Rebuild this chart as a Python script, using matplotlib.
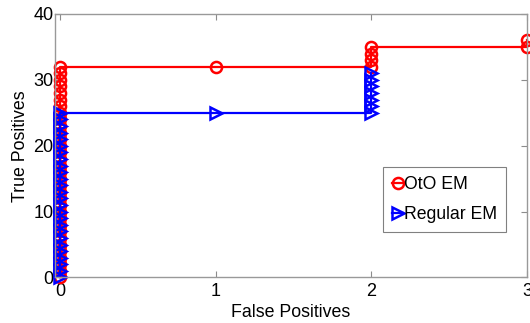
import matplotlib
matplotlib.use('Agg')
import matplotlib.pyplot as plt

# OtO EM curve (false positives, true positives)
oto_fp = [0, 0, 0, 0, 0, 0, 0, 0, 0, 0, 0, 0, 0, 0, 0, 0, 0,
          0, 0, 0, 0, 0, 0, 0, 0, 0, 0, 0, 0, 0, 0, 0, 0,
          1, 2, 2, 2, 2, 3, 3]
oto_tp = [0, 1, 2, 3, 4, 5, 6, 7, 8, 9, 10, 11, 12, 13, 14, 15, 16,
          17, 18, 19, 20, 21, 22, 23, 24, 25, 26, 27, 28, 29, 30, 31, 32,
          32, 32, 33, 34, 35, 35, 36]

# Regular EM curve
reg_fp = [0, 0, 0, 0, 0, 0, 0, 0, 0, 0, 0, 0, 0,
          0, 0, 0, 0, 0, 0, 0, 0, 0, 0, 0, 0, 0,
          1, 2, 2, 2, 2, 2, 2, 2]
reg_tp = [0, 1, 2, 3, 4, 5, 6, 7, 8, 9, 10, 11, 12,
          13, 14, 15, 16, 17, 18, 19, 20, 21, 22, 23, 24, 25,
          25, 25, 26, 27, 28, 29, 30, 31]

xticks = [0, 1, 2, 3]
yticks = [0, 10, 20, 30, 40]

plt.rcParams['font.family'] = ['Liberation Sans', 'DejaVu Sans']

fig = plt.figure(figsize=(5.3, 3.23), dpi=100)
ax = fig.add_axes([0.1038, 0.1409, 0.8905, 0.8158])

ax.plot(oto_fp, oto_tp, '-o', color='red', lw=1.6, ms=8, mfc='none',
        mew=1.8, label='OtO EM', clip_on=False)
ax.plot(reg_fp, reg_tp, '->', color='blue', lw=1.6, ms=8, mfc='none',
        mew=1.8, label='Regular EM', clip_on=False)

ax.set_xlim(-0.032, 3)
ax.set_ylim(0, 40)
ax.set_xticks(xticks)
ax.set_yticks(yticks)
ax.tick_params(direction='in', length=4, width=0.8, color='0.55',
               labelsize=13, top=True, right=True, pad=1)
ax.tick_params(axis='x', pad=4)
for s in ax.spines.values():
    s.set_color('0.6')
    s.set_linewidth(1.0)

ax.set_xlabel('False Positives', fontsize=12.8, labelpad=3)
ax.set_ylabel('True Positives', fontsize=12.8, labelpad=3)

leg = ax.legend(loc='upper left', bbox_to_anchor=(0.7226, 0.483),
                bbox_transform=fig.transFigure,
                fontsize=12.7, handlelength=0.65, handletextpad=0.05,
                borderpad=0.5, labelspacing=0.75, fancybox=False,
                framealpha=1, borderaxespad=0)
leg.get_frame().set_edgecolor('0.5')
leg.get_frame().set_linewidth(0.8)

fig.savefig('out.png', dpi=100)
